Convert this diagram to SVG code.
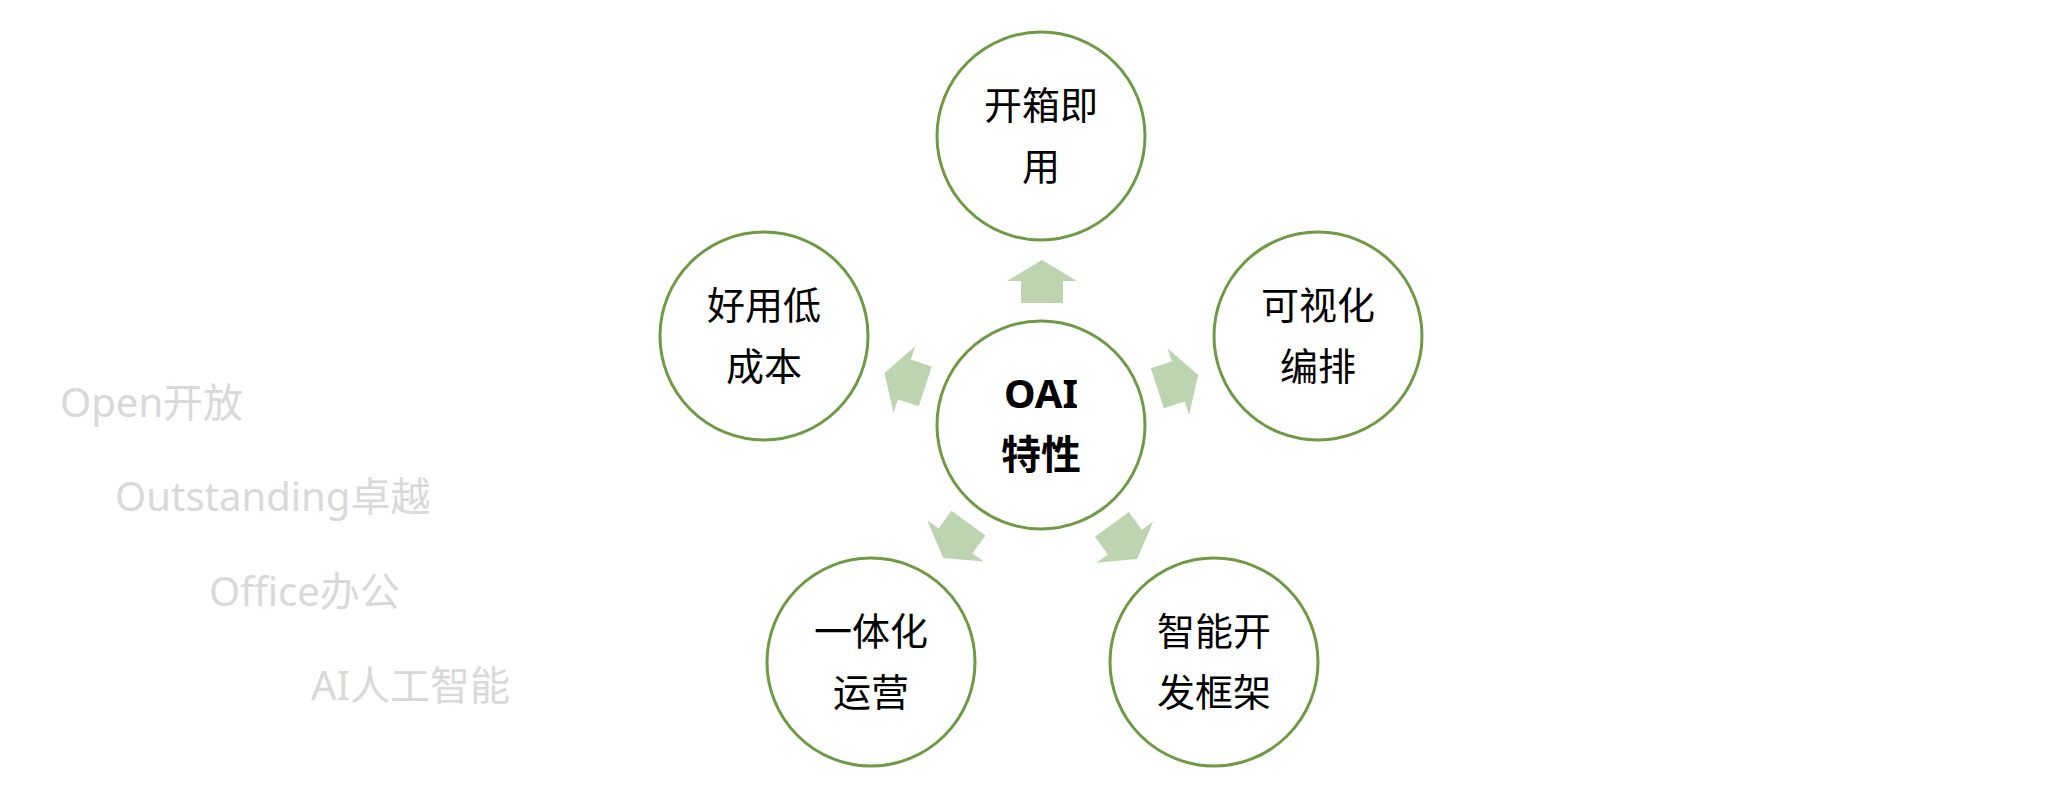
<svg xmlns="http://www.w3.org/2000/svg" width="2063" height="789" viewBox="0 0 2063 789">
<style>
.c{fill:#fff;stroke:#6f9a45;stroke-width:3}
.t{font-family:"Noto Sans","Noto Sans CJK SC",sans-serif;font-size:38px;fill:#000;text-anchor:middle}
.b{font-weight:bold;font-size:40px}
.g{font-family:"Noto Sans","Noto Sans CJK SC",sans-serif;font-size:40px;fill:#d9d9d9}
.a{fill:#bcd5b0}
</style>
<rect width="2063" height="789" fill="#fff"/>
<defs><path id="arr" class="a" d="M1042,260 L1077,281 L1063,281 L1063,303 L1021,303 L1021,281 L1007,281 Z"/></defs>
<g id="connectors">
<use href="#arr"/>
<use href="#arr" transform="rotate(72 1041 425)"/>
<use href="#arr" transform="rotate(144 1041 425)"/>
<use href="#arr" transform="rotate(-144 1041 425)"/>
<use href="#arr" transform="rotate(-72 1041 425)"/>
</g>
<g id="center"><circle class="c" cx="1041" cy="425" r="104"/><text class="t b" x="1041" y="408">OAI</text><text class="t b" x="1041" y="469">特性</text></g>
<g id="top"><circle class="c" cx="1041" cy="136" r="104"/><text class="t" x="1041" y="119">开箱即</text><text class="t" x="1041" y="180">用</text></g>
<g id="left"><circle class="c" cx="764" cy="336" r="104"/><text class="t" x="764" y="319">好用低</text><text class="t" x="764" y="380">成本</text></g>
<g id="right"><circle class="c" cx="1318" cy="336" r="104"/><text class="t" x="1318" y="319">可视化</text><text class="t" x="1318" y="380">编排</text></g>
<g id="lowerleft"><circle class="c" cx="871" cy="662" r="104"/><text class="t" x="871" y="645">一体化</text><text class="t" x="871" y="706">运营</text></g>
<g id="lowerright"><circle class="c" cx="1214" cy="662" r="104"/><text class="t" x="1214" y="645">智能开</text><text class="t" x="1214" y="706">发框架</text></g>
<g id="labels">
<text class="g" x="60" y="417">Open开放</text>
<text class="g" x="115" y="511">Outstanding卓越</text>
<text class="g" x="209" y="606">Office办公</text>
<text class="g" x="311" y="700">AI人工智能</text>
</g>
</svg>
